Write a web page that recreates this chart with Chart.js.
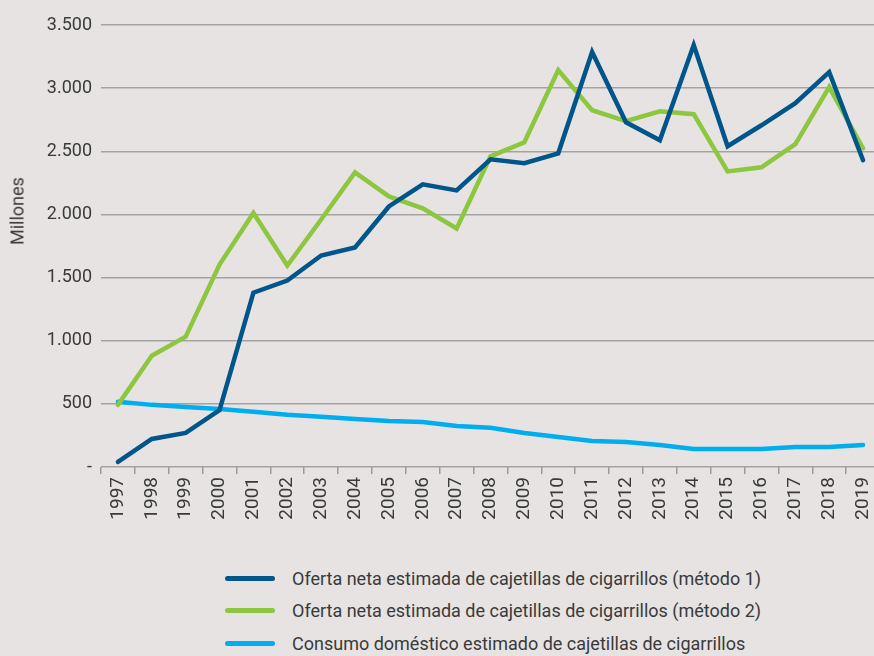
<!DOCTYPE html>
<html>
<head>
<meta charset="utf-8">
<script src="https://cdn.jsdelivr.net/npm/chart.js@4/dist/chart.umd.min.js"></script>
<style>
  html, body { margin: 0; padding: 0; background: #e6e3e2; overflow: hidden; width: 874px; height: 656px; }
  body { position: relative; font-family: "Roboto", sans-serif; color: #3a3a3a; }
  #chart { position: absolute; left: 0; top: 0; width: 880px; height: 545px; }
  #yTitle { position: absolute; left: 17px; top: 211px; transform: translate(-50%, -50%) rotate(-90deg); font-size: 18px; white-space: nowrap; }
  #legend { position: absolute; left: 225px; top: 562px; }
  .leg-row { display: flex; align-items: center; height: 32.5px; font-size: 18px; }
  .leg-swatch { width: 50px; height: 5px; border-radius: 3px; margin-right: 17px; }
</style>
</head>
<body>
<canvas id="chart" width="880" height="545"></canvas>
<div id="yTitle">Millones</div>
<div id="legend"></div>
<script>
const years = ['1997','1998','1999','2000','2001','2002','2003','2004','2005','2006','2007','2008','2009','2010','2011','2012','2013','2014','2015','2016','2017','2018','2019'];
const metodo1 = [40, 222, 270, 450, 1380, 1476, 1675, 1738, 2063, 2238, 2190, 2437, 2405, 2484, 3286, 2730, 2587, 3341, 2540, 2706, 2881, 3127, 2429];
const metodo2 = [492, 881, 1032, 1603, 2012, 1595, 1960, 2333, 2143, 2048, 1889, 2460, 2571, 3143, 2825, 2738, 2817, 2794, 2341, 2373, 2556, 3008, 2524];
const consumo = [516, 492, 476, 460, 437, 413, 397, 381, 365, 357, 325, 310, 270, 238, 206, 198, 175, 143, 143, 143, 159, 159, 175];
const seriesNames = [
    'Oferta neta estimada de cajetillas de cigarrillos (método 1)',
    'Oferta neta estimada de cajetillas de cigarrillos (método 2)',
    'Consumo doméstico estimado de cajetillas de cigarrillos'
];
const seriesColors = ['#00558a', '#8dc63f', '#00aeef'];

const fontFamily = '"Roboto", sans-serif';
const textColor = '#3a3a3a';

function fmt(v) {
    if (v === 0) return '-';
    return v.toString().replace(/\B(?=(\d{3})+(?!\d))/g, '.');
}

const ctx = document.getElementById('chart').getContext('2d');
const chart = new Chart(ctx, {
    type: 'line',
    data: {
        labels: years,
        datasets: [metodo1, metodo2, consumo].map((d, i) => ({
            label: seriesNames[i],
            data: d,
            borderColor: seriesColors[i],
            backgroundColor: seriesColors[i],
            borderWidth: 4.5,
            pointRadius: 0,
            tension: 0,
            borderCapStyle: 'round',
            borderJoinStyle: 'miter'
        }))
    },
    options: {
        responsive: false,
        animation: false,
        layout: { padding: { left: 0, right: 0, top: 25, bottom: 0 } },
        plugins: { legend: { display: false }, tooltip: { enabled: false } },
        scales: {
            x: {
                offset: true,
                grid: { offset: true, drawOnChartArea: false, drawTicks: true, tickLength: 7, color: '#9a9a9a', lineWidth: 1.5 },
                border: { display: false },
                ticks: { color: textColor, font: { family: fontFamily, size: 19 }, minRotation: 90, maxRotation: 90, padding: 3, autoSkip: false },
                // labels stay inside the offset gap, so no extra side padding is needed
                afterFit: s => { s.height = 78; s.paddingRight = 0; s.paddingLeft = 0; }
            },
            y: {
                min: 0,
                max: 3500,
                grid: { color: '#a3a3a3', lineWidth: 1.5, drawTicks: false },
                border: { display: false },
                ticks: { stepSize: 500, color: textColor, font: { family: fontFamily, size: 18 }, padding: 9, callback: v => fmt(v) },
                afterFit: s => { s.width = 101; }
            }
        }
    }
});

const legend = document.getElementById('legend');
legend.innerHTML = chart.data.datasets.map(ds => `
    <div class="leg-row"><span class="leg-swatch" style="background:${ds.borderColor}"></span><span>${ds.label}</span></div>
`).join('');
</script>
</body>
</html>
